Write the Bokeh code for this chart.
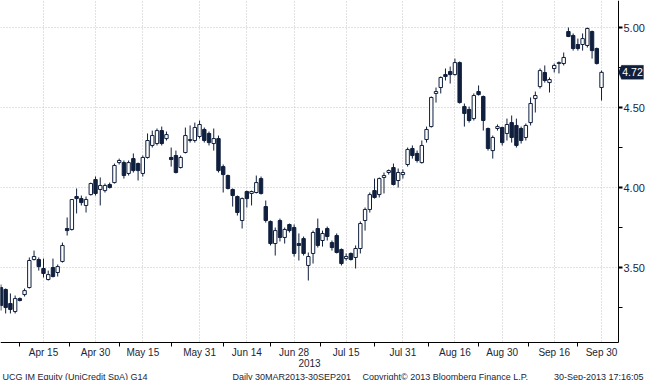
import pandas as pd
from bokeh.plotting import figure
from bokeh.models import (ColumnDataSource, FixedTicker, Range1d, Label, PrintfTickFormatter,
                          BoxAnnotation, PolyAnnotation)
from bokeh.embed import file_html
from bokeh.resources import INLINE

# ---- data ----
holidays = ["2013-05-01", "2013-08-15"]
trading_days = [d.strftime("%Y-%m-%d") for d in pd.bdate_range("2013-04-02", "2013-09-30")
                if d.strftime("%Y-%m-%d") not in holidays]

opens = [3.375, 3.363, 3.275, 3.225, 3.306, 3.331, 3.375, 3.550, 3.550, 3.494,
         3.425, 3.500, 3.469, 3.538, 3.744, 3.738, 3.944, 3.931, 3.888, 3.956,
         4.050, 3.988, 3.981, 4.019, 4.031, 4.156, 4.156, 4.088, 4.181, 4.150,
         4.088, 4.188, 4.263, 4.275, 4.356, 4.306, 4.188, 4.200, 4.125, 4.219,
         4.294, 4.294, 4.319, 4.363, 4.338, 4.275, 4.306, 4.131, 4.075, 3.988,
         3.944, 3.794, 3.975, 3.963, 3.969, 4.056, 3.881, 3.788, 3.650, 3.794,
         3.688, 3.769, 3.750, 3.650, 3.681, 3.513, 3.588, 3.744, 3.669, 3.744,
         3.656, 3.700, 3.613, 3.556, 3.588, 3.563, 3.619, 3.794, 3.863, 3.981,
         3.956, 4.063, 4.094, 4.125, 4.044, 4.081, 4.144, 4.244, 4.213, 4.156,
         4.300, 4.381, 4.588, 4.625, 4.706, 4.725, 4.706, 4.781, 4.506, 4.488,
         4.431, 4.600, 4.569, 4.369, 4.231, 4.369, 4.375, 4.338, 4.406, 4.388,
         4.369, 4.313, 4.406, 4.556, 4.631, 4.719, 4.656, 4.744, 4.775, 4.775,
         4.975, 4.950, 4.894, 4.894, 4.888, 4.975, 4.869, 4.625]
highs = [3.394, 3.369, 3.338, 3.325, 3.313, 3.369, 3.563, 3.606, 3.563, 3.556,
         3.481, 3.556, 3.519, 3.656, 3.813, 3.925, 3.994, 3.950, 3.944, 4.031,
         4.069, 4.063, 4.025, 4.031, 4.150, 4.181, 4.169, 4.169, 4.213, 4.156,
         4.200, 4.338, 4.356, 4.369, 4.381, 4.350, 4.250, 4.231, 4.200, 4.375,
         4.388, 4.406, 4.419, 4.375, 4.350, 4.369, 4.325, 4.144, 4.081, 3.994,
         3.950, 3.938, 3.981, 3.981, 4.075, 4.069, 3.919, 3.794, 3.750, 3.806,
         3.750, 3.775, 3.769, 3.713, 3.694, 3.594, 3.731, 3.806, 3.731, 3.756,
         3.669, 3.713, 3.619, 3.588, 3.594, 3.638, 3.788, 3.875, 3.969, 4.056,
         4.063, 4.094, 4.113, 4.150, 4.119, 4.113, 4.250, 4.263, 4.231, 4.294,
         4.381, 4.569, 4.625, 4.694, 4.744, 4.756, 4.806, 4.788, 4.525, 4.506,
         4.588, 4.638, 4.575, 4.375, 4.325, 4.394, 4.381, 4.431, 4.450, 4.431,
         4.381, 4.400, 4.563, 4.600, 4.744, 4.763, 4.688, 4.775, 4.788, 4.844,
         5.000, 4.963, 4.931, 4.963, 5.000, 4.981, 4.875, 4.731]
lows = [3.231, 3.213, 3.213, 3.213, 3.288, 3.319, 3.369, 3.544, 3.481, 3.438,
        3.419, 3.438, 3.444, 3.531, 3.700, 3.731, 3.838, 3.888, 3.844, 3.950,
        3.950, 3.888, 3.969, 3.994, 4.025, 4.144, 4.056, 4.075, 4.094, 4.044,
        4.069, 4.181, 4.250, 4.263, 4.263, 4.294, 4.131, 4.088, 4.119, 4.213,
        4.281, 4.281, 4.306, 4.281, 4.263, 4.231, 4.094, 3.969, 3.988, 3.881,
        3.825, 3.744, 3.875, 3.888, 3.963, 3.956, 3.781, 3.638, 3.575, 3.663,
        3.650, 3.719, 3.569, 3.544, 3.575, 3.419, 3.525, 3.625, 3.631, 3.669,
        3.606, 3.588, 3.513, 3.544, 3.544, 3.494, 3.588, 3.731, 3.844, 3.931,
        3.938, 3.963, 4.081, 4.013, 4.000, 4.056, 4.131, 4.181, 4.156, 4.150,
        4.281, 4.375, 4.531, 4.588, 4.669, 4.650, 4.700, 4.525, 4.381, 4.406,
        4.419, 4.575, 4.356, 4.231, 4.181, 4.356, 4.263, 4.294, 4.281, 4.250,
        4.275, 4.294, 4.388, 4.469, 4.619, 4.656, 4.594, 4.719, 4.713, 4.763,
        4.940, 4.856, 4.856, 4.856, 4.875, 4.806, 4.769, 4.544]
closes = [3.263, 3.250, 3.238, 3.306, 3.294, 3.356, 3.544, 3.569, 3.506, 3.463,
          3.456, 3.444, 3.506, 3.638, 3.731, 3.925, 3.931, 3.906, 3.925, 4.025,
          3.963, 4.013, 4.013, 4.000, 4.138, 4.169, 4.075, 4.156, 4.106, 4.106,
          4.188, 4.294, 4.325, 4.356, 4.275, 4.331, 4.175, 4.094, 4.188, 4.325,
          4.300, 4.375, 4.394, 4.294, 4.281, 4.306, 4.106, 4.081, 3.994, 3.950,
          3.844, 3.931, 3.931, 3.975, 4.031, 3.963, 3.794, 3.650, 3.731, 3.688,
          3.738, 3.731, 3.588, 3.638, 3.588, 3.569, 3.719, 3.638, 3.713, 3.694,
          3.625, 3.594, 3.525, 3.569, 3.550, 3.619, 3.775, 3.863, 3.956, 3.938,
          4.056, 4.075, 4.106, 4.019, 4.094, 4.094, 4.238, 4.200, 4.169, 4.263,
          4.363, 4.563, 4.600, 4.688, 4.694, 4.706, 4.781, 4.531, 4.463, 4.419,
          4.575, 4.581, 4.419, 4.244, 4.313, 4.381, 4.281, 4.394, 4.313, 4.263,
          4.294, 4.388, 4.525, 4.575, 4.731, 4.669, 4.675, 4.763, 4.781, 4.813,
          4.944, 4.869, 4.869, 4.931, 4.994, 4.856, 4.775, 4.720]

tick_dates = ["2013-04-15", "2013-04-30", "2013-05-15", "2013-05-31", "2013-06-14", "2013-06-28",
              "2013-07-15", "2013-07-31", "2013-08-16", "2013-08-30", "2013-09-16", "2013-09-30"]
tick_labels = ["Apr 15", "Apr 30", "May 15", "May 31", "Jun 14", "Jun 28",
               "Jul 15", "Jul 31", "Aug 16", "Aug 30", "Sep 16", "Sep 30"]
y_major = [3.5, 4.0, 4.5, 5.0]
y_minor = [3.25, 3.75, 4.25, 4.75]

footer_left = "UCG IM Equity (UniCredit SpA) G14"
footer_mid = "Daily 30MAR2013-30SEP201"
footer_copy = "Copyright\u00a9 2013 Bloomberg Finance L.P."
footer_right = "30-Sep-2013 17:16:05"

# ---- layout / styling ----
W, H = 645, 380
NAVY = "#0f1f3d"
TXT = "#1c2536"
GRID = "#c4c4c4"
FONT = "Liberation Sans"
X_START, X_AXIS, X_END = -0.093, 130.59, 136.30   # right value axis drawn at X_AXIS
Y_BOTTOM, Y_AXIS, Y_TOP = 2.794, 3.031, 5.169     # time axis drawn at Y_AXIS
PX_X = W / (X_END - X_START)
PX_Y = H / (Y_TOP - Y_BOTTOM)

xs = list(range(len(trading_days)))
src = ColumnDataSource(dict(
    x=xs, open=opens, high=highs, low=lows, close=closes,
    top=[max(o, c) for o, c in zip(opens, closes)],
    bottom=[min(o, c) for o, c in zip(opens, closes)],
    fill=["white" if c >= o else NAVY for o, c in zip(opens, closes)],
))

major_idx = [trading_days.index(d) for d in tick_dates]
minor_idx = [(a + b) / 2 for a, b in zip([-1] + major_idx[:-1], major_idx)]

p = figure(width=W, height=H, x_range=Range1d(X_START, X_END), y_range=Range1d(Y_BOTTOM, Y_TOP),
           output_backend="svg", toolbar_location=None, y_axis_location="right",
           min_border_left=0, min_border_top=0, min_border_right=0, min_border_bottom=0)
p.outline_line_color = None
p.background_fill_color = "white"
p.border_fill_color = "white"

p.grid.grid_line_color = GRID
p.grid.grid_line_dash = "1 2"
p.grid.grid_line_width = 1

# white masks so that the grid stops at the two axes
p.add_layout(BoxAnnotation(left=X_AXIS, fill_color="white", fill_alpha=1, line_color=None, level="underlay"))
p.add_layout(BoxAnnotation(top=Y_AXIS, fill_color="white", fill_alpha=1, line_color=None, level="underlay"))

# x axis (time)
xa = p.xaxis[0]
xa.fixed_location = Y_AXIS
xa.bounds = (X_START, X_AXIS)
xa.ticker = FixedTicker(ticks=major_idx, minor_ticks=minor_idx)
xa.major_label_overrides = {i: lab for i, lab in zip(major_idx, tick_labels)}
xa.major_tick_out = 0
xa.major_tick_in = 0
xa.minor_tick_out = 4
xa.minor_tick_in = 0
xa.axis_line_color = "black"
xa.minor_tick_line_color = "black"
xa.major_label_standoff = 0
xa.major_label_text_font = FONT
xa.major_label_text_font_size = "10px"
xa.major_label_text_color = TXT
xa.axis_label = "2013"
xa.axis_label_standoff = -2
xa.axis_label_text_font = FONT
xa.axis_label_text_font_size = "10px"
xa.axis_label_text_font_style = "normal"
xa.axis_label_text_color = TXT

# y axis (price, right)
ya = p.yaxis[0]
ya.fixed_location = X_AXIS
ya.bounds = (Y_AXIS, Y_TOP)
ya.ticker = FixedTicker(ticks=y_major, minor_ticks=y_minor)
ya.formatter = PrintfTickFormatter(format="%.2f")
ya.major_tick_out = 4
ya.major_tick_in = 0
ya.major_tick_line_width = 2
ya.minor_tick_out = 4
ya.minor_tick_in = 0
ya.axis_line_color = "black"
ya.major_tick_line_color = "black"
ya.minor_tick_line_color = "black"
ya.major_label_standoff = 1
ya.major_label_text_font = FONT
ya.major_label_text_font_size = "11px"
ya.major_label_text_color = TXT

# candles
p.segment(x0="x", y0="high", x1="x", y1="low", source=src, line_color=NAVY, line_width=1)
p.vbar(x="x", width=0.72, top="top", bottom="bottom", source=src,
       fill_color="fill", line_color=NAVY, line_width=1)

# last price tag (pointed box on the value axis)
last = closes[-1]
tip_w, box_w, half_h = 3 / PX_X, 25 / PX_X, 7 / PX_Y
p.add_layout(PolyAnnotation(
    xs=[X_AXIS, X_AXIS + tip_w, X_AXIS + box_w, X_AXIS + box_w, X_AXIS + tip_w],
    ys=[last, last + half_h, last + half_h, last - half_h, last - half_h],
    fill_color=NAVY, fill_alpha=1, line_color=NAVY))
p.add_layout(Label(x=X_AXIS, y=last, text=f"{last:.2f}", text_color="white",
                   text_font=FONT, text_font_size="10.5px", x_offset=14,
                   text_baseline="middle", text_align="center"))

# footer
for txt, xpos, align in [(footer_left, 2, "left"), (footer_mid, 232, "left"),
                         (footer_copy, 362, "left"), (footer_right, 643, "right")]:
    p.add_layout(Label(x=xpos, y=4, x_units="screen", y_units="screen", text=txt,
                       text_color=TXT, text_font=FONT, text_font_size="9px",
                       text_baseline="alphabetic", text_align=align))

open("out.html", "w").write(file_html(p, INLINE))
